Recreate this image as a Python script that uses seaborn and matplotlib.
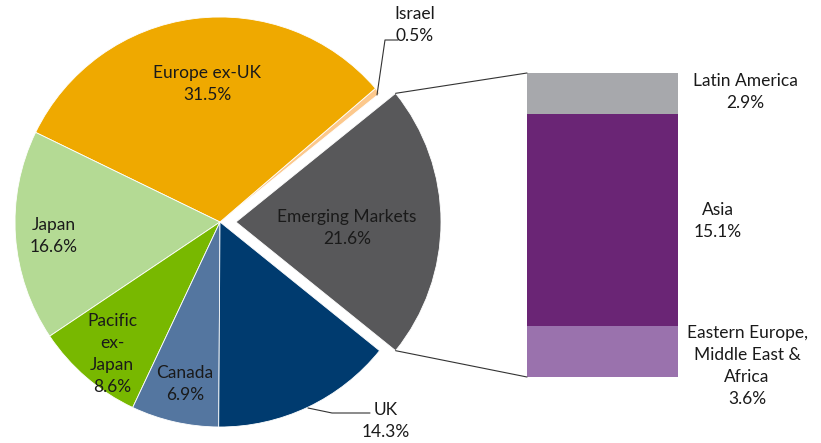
import matplotlib
matplotlib.use("Agg")
import matplotlib.pyplot as plt
from matplotlib.patches import ConnectionPatch
import seaborn as sns
import numpy as np

# pie: regional weights, counterclockwise starting from Emerging Markets
regions = ["Emerging Markets", "Israel", "Europe ex-UK", "Japan", "Pacific ex-Japan", "Canada", "UK"]
shares = [21.6, 0.5, 31.5, 16.6, 8.6, 6.9, 14.3]
pie_colors = ["#58585A", "#FCC88C", "#EFA900", "#B4DA94", "#78B800", "#5476A0", "#003B6F"]

# bar: breakdown of emerging markets, bottom to top
em_regions = ["Eastern Europe,\nMiddle East &\nAfrica", "Asia", "Latin America"]
em_shares = [3.6, 15.1, 2.9]
em_colors = ["#9A72AD", "#6A2575", "#A7A8AC"]

sns.set_style("white")
plt.rcParams["font.family"] = ["Lato", "DejaVu Sans"]

W, H = 821, 443
fig = plt.figure(figsize=(W / 100, H / 100), dpi=100)

# pie axes in pixel coords (y up)
ax = fig.add_axes([0, 0, 1, 1])
cx, cy, r = 220, H - 222, 205
# explode is in data units here (pixels)
explode = [16] + [0] * (len(shares) - 1)
wedges, _ = ax.pie(shares, colors=pie_colors, startangle=-shares[0] / 100 * 360 / 2,
                   counterclock=True, explode=explode, center=(cx, cy), radius=r,
                   wedgeprops=dict(edgecolor="white", linewidth=0.6), frame=True)
ax.set_xlim(0, W)
ax.set_ylim(0, H)
ax.set_aspect("equal")
ax.axis("off")

tc = "#1a1a1a"
fs = 12.5
ls = 1.45
def lab(x, y, s, ha="center"):
    ax.text(x, H - y, s, ha=ha, va="center", fontsize=fs, color=tc, linespacing=ls)

lab(347, 228, f"{regions[0]}\n{shares[0]}%")
lab(415, 25, f"{regions[1]}\n{shares[1]}%")
lab(207, 84, f"{regions[2]}\n{shares[2]}%")
lab(54, 236, f"{regions[3]}\n{shares[3]}%")
lab(112, 354, f"Pacific\nex-\nJapan\n{shares[4]}%")
lab(185, 384, f"{regions[5]}\n{shares[5]}%")
lab(386, 421, f"{regions[6]}\n{shares[6]}%")

# leader lines
ax.plot([398, 385, 377], [H - 40, H - 40, H - 95], color="#333333", lw=0.8)
ax.plot([308, 332, 370], [H - 408, H - 413, H - 413], color="#333333", lw=0.8)

# stacked bar of emerging markets
bx = fig.add_axes([527 / W, (H - 377) / H, 151 / W, 304 / H])
bottom = 0
for name, v, c in zip(em_regions, em_shares, em_colors):
    bx.bar(0, v, bottom=bottom, width=1, color=c, edgecolor="none")
    bottom += v
bx.set_xlim(-0.5, 0.5)
bx.set_ylim(0, sum(em_shares))
bx.axis("off")

fig.text(745 / W, 1 - 92 / H, f"{em_regions[2]}\n{em_shares[2]}%", ha="center", va="center",
         fontsize=fs, color=tc, linespacing=ls)
fig.text(718 / W, 1 - 221 / H, f"{em_regions[1]}\n{em_shares[1]}%", ha="center", va="center",
         fontsize=fs, color=tc, linespacing=ls)
fig.text(747 / W, 1 - 366 / H, f"{em_regions[0]}\n{em_shares[0]}%", ha="center", va="center",
         fontsize=fs, color=tc, linespacing=ls)

# connectors from the exploded wedge to the bar
w = wedges[0]
ecx, ecy = w.center
for ang, yb in [(w.theta2, sum(em_shares)), (w.theta1, 0)]:
    px = ecx + r * np.cos(np.radians(ang))
    py = ecy + r * np.sin(np.radians(ang))
    con = ConnectionPatch(xyA=(px, py), coordsA=ax.transData, xyB=(-0.5, yb), coordsB=bx.transData,
                          color="#333333", lw=0.8)
    fig.add_artist(con)

fig.savefig("out.png", dpi=100)
